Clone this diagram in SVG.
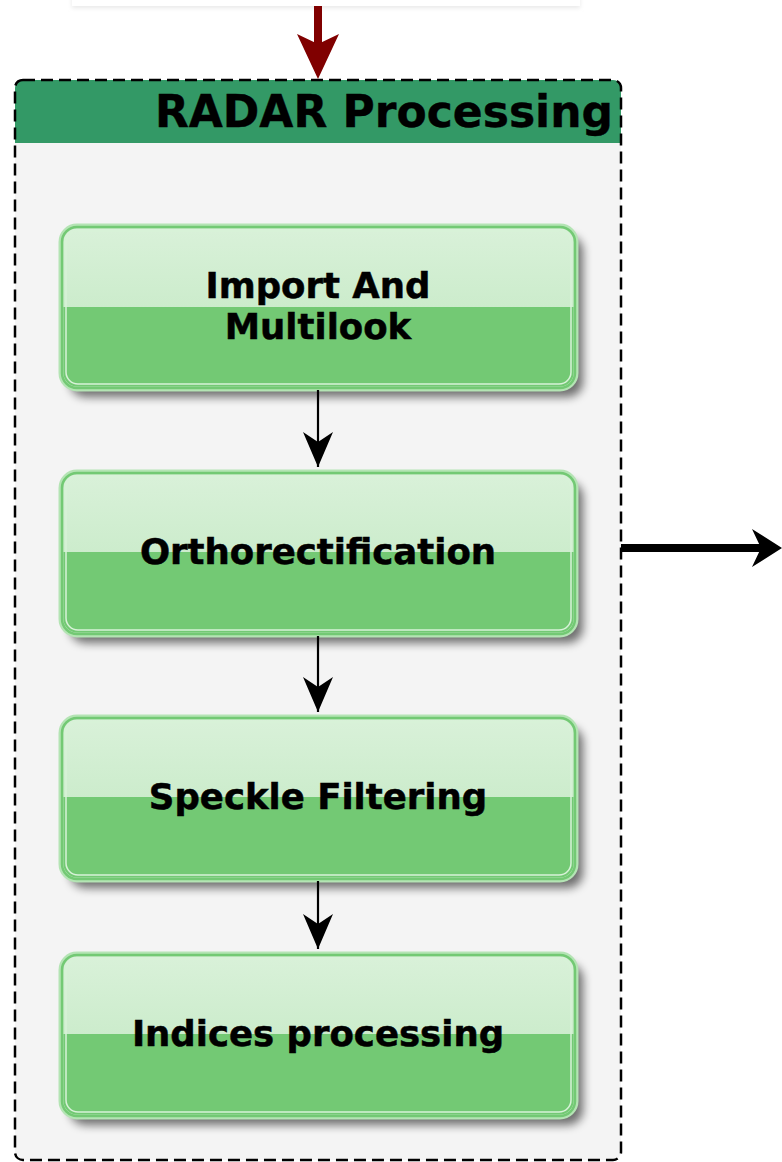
<svg xmlns="http://www.w3.org/2000/svg" width="782" height="1162" viewBox="0 0 782 1162">
<style>
.lbl{font-family:"DejaVu Sans",sans-serif;font-weight:bold;font-size:35.5px;fill:#000;stroke:#000;stroke-width:0.5;text-anchor:middle}
.title{font-family:"DejaVu Sans",sans-serif;font-weight:bold;font-size:44px;fill:#000;stroke:#000;stroke-width:0.4;text-anchor:end}
.outer{fill:none;stroke:#b4e4b4;stroke-width:5}
.bottom{fill:#73c974}
.rim{fill:none;stroke:#73c974;stroke-width:2.5}
.inner{fill:none;stroke:#d8f2d8;stroke-width:1.5}
.conn{stroke:#000;stroke-width:2.2;fill:none}
.shadow{fill:#000;opacity:0.55}
</style>
<defs>
<linearGradient id="top" x1="0" y1="0" x2="0" y2="1">
<stop offset="0" stop-color="#d9f1d9"/>
<stop offset="1" stop-color="#bfe7bf"/>
</linearGradient>
<filter id="sh" x="-10%" y="-10%" width="130%" height="140%">
<feGaussianBlur stdDeviation="5"/>
</filter>
<filter id="sh2" x="-10%" y="-100%" width="120%" height="400%">
<feGaussianBlur stdDeviation="2"/>
</filter>
<clipPath id="c1"><rect x="62" y="227" width="513" height="161" rx="15"/></clipPath>
<clipPath id="c2"><rect x="62" y="473" width="513" height="161" rx="15"/></clipPath>
<clipPath id="c3"><rect x="62" y="718" width="513" height="161" rx="15"/></clipPath>
<clipPath id="c4"><rect x="62" y="955" width="513" height="161" rx="15"/></clipPath>
<marker id="ah" viewBox="0 0 35 30" refX="35" refY="15" markerWidth="35" markerHeight="30" markerUnits="userSpaceOnUse" orient="auto">
<path d="M0,0 L35,15 L0,30 L10,15 Z" fill="#000"/>
</marker>
</defs>

<g id="upstream">
<rect x="72" y="-20" width="508" height="28" fill="#e8e8e8" filter="url(#sh2)"/>
<rect x="72" y="-20" width="508" height="26" fill="#fff"/>
</g>

<g id="radar-processing">
<rect x="15" y="80" width="606" height="1080" rx="8" fill="#f4f4f4"/>
<path d="M23,80 H613 A8,8 0 0 1 621,88 V143 H15 V88 A8,8 0 0 1 23,80 Z" fill="#339966"/>
<rect x="15" y="80" width="606" height="1080" rx="8" fill="none" stroke="#000" stroke-width="2.5" stroke-dasharray="12,6"/>
<text class="title" x="613" y="127">RADAR Processing</text>
</g>

<g id="import-multilook">
<rect x="70" y="236" width="513" height="161" rx="15" class="shadow" filter="url(#sh)"/>
<rect x="62" y="227" width="513" height="161" rx="15" fill="url(#top)"/>
<rect x="62" y="307" width="513" height="85" class="bottom" clip-path="url(#c1)"/>
<rect x="61" y="226" width="515" height="163" rx="16" class="outer"/>
<rect x="62" y="227" width="513" height="161" rx="15" class="rim"/>
<rect x="66" y="231" width="505" height="153" rx="12" class="inner"/>
<text class="lbl" x="318" y="298">Import And</text>
<text class="lbl" x="318" y="339">Multilook</text>
</g>

<g id="orthorectification">
<rect x="70" y="482" width="513" height="161" rx="15" class="shadow" filter="url(#sh)"/>
<rect x="62" y="473" width="513" height="161" rx="15" fill="url(#top)"/>
<rect x="62" y="552" width="513" height="85" class="bottom" clip-path="url(#c2)"/>
<rect x="61" y="472" width="515" height="163" rx="16" class="outer"/>
<rect x="62" y="473" width="513" height="161" rx="15" class="rim"/>
<rect x="66" y="477" width="505" height="153" rx="12" class="inner"/>
<text class="lbl" x="318" y="564">Orthorectification</text>
</g>

<g id="speckle-filtering">
<rect x="70" y="727" width="513" height="161" rx="15" class="shadow" filter="url(#sh)"/>
<rect x="62" y="718" width="513" height="161" rx="15" fill="url(#top)"/>
<rect x="62" y="797" width="513" height="85" class="bottom" clip-path="url(#c3)"/>
<rect x="61" y="717" width="515" height="163" rx="16" class="outer"/>
<rect x="62" y="718" width="513" height="161" rx="15" class="rim"/>
<rect x="66" y="722" width="505" height="153" rx="12" class="inner"/>
<text class="lbl" x="318" y="809">Speckle Filtering</text>
</g>

<g id="indices-processing">
<rect x="70" y="964" width="513" height="161" rx="15" class="shadow" filter="url(#sh)"/>
<rect x="62" y="955" width="513" height="161" rx="15" fill="url(#top)"/>
<rect x="62" y="1034" width="513" height="85" class="bottom" clip-path="url(#c4)"/>
<rect x="61" y="954" width="515" height="163" rx="16" class="outer"/>
<rect x="62" y="955" width="513" height="161" rx="15" class="rim"/>
<rect x="66" y="959" width="505" height="153" rx="12" class="inner"/>
<text class="lbl" x="318" y="1046">Indices processing</text>
</g>

<g id="connectors">
<line x1="318" y1="6" x2="318" y2="55" stroke="#800000" stroke-width="8"/>
<path d="M297,34 L318,79 L339,34 L318,44 Z" fill="#800000"/>
<line class="conn" x1="318" y1="390" x2="318" y2="467" marker-end="url(#ah)"/>
<line class="conn" x1="318" y1="636" x2="318" y2="712" marker-end="url(#ah)"/>
<line class="conn" x1="318" y1="881" x2="318" y2="949" marker-end="url(#ah)"/>
<line x1="621" y1="548" x2="765" y2="548" stroke="#000" stroke-width="8"/>
<path d="M752,529 L782,548 L752,567 L761,548 Z" fill="#000"/>
</g>
</svg>
